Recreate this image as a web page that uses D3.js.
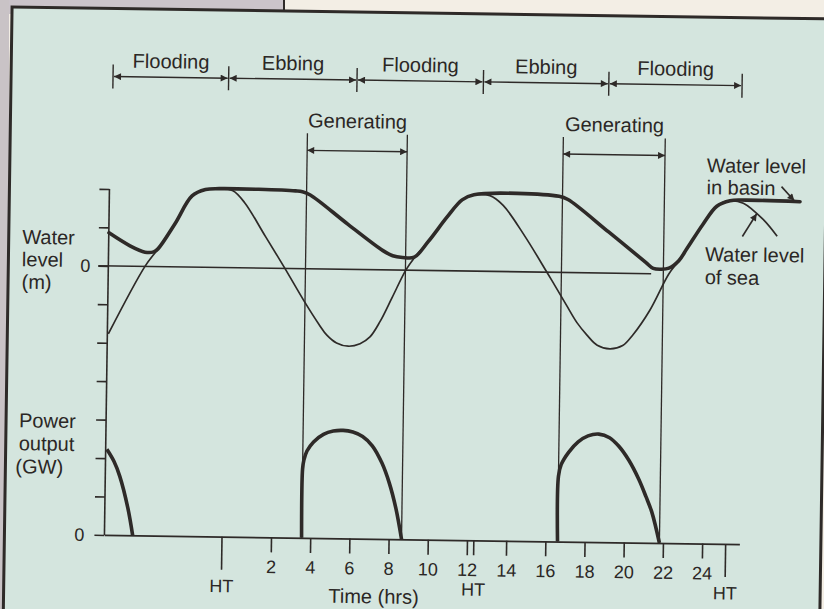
<html>
<head>
  <title>Tidal power station</title>
  <script src="https://d3js.org/d3.v7.min.js"></script>
  <style>
    body { margin: 0; background: #f3eee5; }
    svg text { font-family: 'Liberation Sans', Arial, Helvetica, sans-serif; fill: #2b2725; }
  </style>
</head>
<body>
  <div id="chart"></div>

  <script type="text/javascript">

    // values: time in hours, water level in m, power in GW
    var seaTime  = [-6.45, -4.63, -3.98, -3.13, -2.28, -1.6, -0.9, -0.2, 0.4, 1.5, 2.51, 3.5, 4.3, 4.7, 5.2, 5.8, 6.4, 6.9, 7.4, 8.0,
                    8.68, 9.1, 9.8, 10.75, 11.5, 12.1, 12.92, 13.6, 14.7, 15.88, 16.9, 17.45, 17.97, 18.5, 19.15, 19.8, 20.31, 21.16,
                    22.1, 22.6, 23.0, 23.8, 24.5, 25.17, 25.85, 26.86, 27.6];
    var seaLevel = [-1.77, 0.0, 0.46, 1.12, 1.85, 2.02, 2.05, 2.0, 1.7, 0.82, 0.0, -0.83, -1.45, -1.72, -1.92, -2.0, -1.93, -1.75, -1.35, -0.72,
                    0.0, 0.32, 0.75, 1.4, 1.85, 1.98, 1.97, 1.72, 0.95, 0.0, -0.85, -1.3, -1.62, -1.88, -1.97, -1.88, -1.6, -0.95,
                    0.0, 0.35, 0.66, 1.3, 1.78, 1.93, 1.87, 1.46, 1.02];

    var basinTime  = [-6.49, -5.41, -4.64, -4.2, -3.98, -3.13, -2.28, -1.6, -0.9, 3.0, 3.35, 3.75, 5.7, 7.5, 8.0, 8.5, 9.1,
                      9.8, 10.75, 11.5, 12.1, 16.45, 16.9, 19.0, 20.9, 21.3, 21.7, 22.1, 22.6, 23.0, 23.8, 24.5, 25.17, 26.0, 28.74];
    var basinLevel = [0.86, 0.53, 0.37, 0.38, 0.46, 1.12, 1.85, 2.02, 2.05, 2.02, 2.0, 1.92, 1.17, 0.5, 0.37, 0.33, 0.34,
                      0.75, 1.4, 1.85, 1.99, 1.98, 1.9, 1.07, 0.3, 0.14, 0.12, 0.15, 0.35, 0.66, 1.3, 1.78, 1.93, 1.95, 1.93];

    var power1Time = [-6.44, -6.07, -5.76, -5.33, -5.06];
    var power1     = [2.23, 1.92, 1.53, 0.72, 0.0];
    var power2Time = [3.56, 3.56, 3.62, 3.77, 4.1, 4.6, 5.1, 5.6, 6.1, 6.6, 7.1, 7.6, 8.0, 8.35, 8.66];
    var power2     = [0.0, 1.79, 2.02, 2.26, 2.5, 2.7, 2.79, 2.81, 2.77, 2.66, 2.42, 1.98, 1.45, 0.8, 0.0];
    var power3Time = [16.62, 16.62, 16.75, 17.13, 17.6, 18.1, 18.65, 19.2, 19.68, 20.2, 20.72, 21.1, 21.41, 21.82];
    var power3     = [0.0, 1.7, 2.0, 2.33, 2.6, 2.76, 2.81, 2.72, 2.5, 2.14, 1.65, 1.2, 0.8, 0.0];

    var phaseBounds = [-6.4, -0.5, 6.05, 12.5, 18.9, 25.7];
    var phaseNames  = ['Flooding', 'Ebbing', 'Flooding', 'Ebbing', 'Flooding'];
    var genStart = [3.56, 16.62];
    var genEnd   = [8.66, 21.82];

    var timeTicks   = [2, 4, 6, 8, 10, 12, 14, 16, 18, 20, 22, 24];
    var htTimes     = [-0.5, 12.35, 25.2];
    var levelTicks  = [-3, -2, -1, 0, 1, 2];
    var powerTicks  = [0, 1, 2, 3];

    var width = 824, height = 609;
    var ink = '#2e2a28';
    var axisY = 539.5;

    // Scales
    var x = d3.scaleLinear().domain([-6.5, 25.9]).range([107, 742]);
    var yLevel = d3.scaleLinear().domain([-3, 2]).range([385.7, 193.5]);
    var yPower = d3.scaleLinear().domain([0, 3]).range([axisY, 424.2]);

    var svg = d3.select('#chart')
                .append('svg')
                  .attr('width', width)
                  .attr('height', height);

    var defs = svg.append('defs');
    defs.append('marker')
          .attr('id', 'head')
          .attr('viewBox', '0 0 10 10')
          .attr('refX', 10)
          .attr('refY', 5)
          .attr('markerUnits', 'userSpaceOnUse')
          .attr('markerWidth', 10)
          .attr('markerHeight', 7)
          .attr('orient', 'auto-start-reverse')
        .append('path')
          .attr('d', 'M0,0L10,5L0,10z')
          .attr('fill', ink);

    // page around the printed box
    svg.append('rect').attr('width', width).attr('height', height).attr('fill', '#f3eee5');
    svg.append('rect').attr('width', 284).attr('height', 14).attr('fill', '#cbc4ca');
    svg.append('rect').attr('width', 9).attr('height', height).attr('fill', '#c9c3c6');
    svg.append('line')
         .attr('x1', 284).attr('x2', 284).attr('y1', 0).attr('y2', 12)
         .attr('stroke', ink).attr('stroke-width', 2);

    // the scan is slightly tilted
    var g = svg.append('g').attr('transform', 'rotate(0.83, 420, 360)');

    g.append('rect')
       .attr('x', 7).attr('y', 13)
       .attr('width', 816.5).attr('height', 700)
       .attr('fill', '#d4e5de')
       .attr('stroke', ink)
       .attr('stroke-width', 3);

    // left axis, one continuous line
    g.append('line')
       .attr('x1', x(-6.5)).attr('x2', x(-6.5))
       .attr('y1', yLevel(2)).attr('y2', axisY)
       .attr('stroke', ink).attr('stroke-width', 1.6);

    var levelAxis = d3.axisLeft(yLevel)
                      .tickValues(levelTicks)
                      .tickSize(10)
                      .tickPadding(8)
                      .tickFormat(function(d) { return d === 0 ? '0' : ''; });
    var powerAxis = d3.axisLeft(yPower)
                      .tickValues(powerTicks)
                      .tickSize(10)
                      .tickPadding(10)
                      .tickFormat(function(d) { return d === 0 ? '0' : ''; });

    [levelAxis, powerAxis].forEach(function(ax) {
      var ga = g.append('g')
                  .attr('transform', 'translate(' + x(-6.5) + ',0)')
                  .call(ax);
      ga.select('.domain').remove();
      ga.selectAll('line').attr('stroke', ink).attr('stroke-width', 1.6);
      ga.selectAll('text').style('font-size', '18px');
    });

    // zero line of water level
    g.append('line')
       .attr('x1', x(-6.5) - 10).attr('x2', x(21.2))
       .attr('y1', yLevel(0)).attr('y2', yLevel(0))
       .attr('stroke', ink).attr('stroke-width', 1.6);

    // time axis
    var xAxis = d3.axisBottom(x)
                  .tickValues(timeTicks)
                  .tickSize(15)
                  .tickSizeOuter(0)
                  .tickPadding(8);
    var gx = g.append('g')
                .attr('transform', 'translate(0,' + axisY + ')')
                .call(xAxis);
    gx.select('.domain').attr('stroke', ink).attr('stroke-width', 1.8);
    gx.selectAll('line').attr('stroke', ink).attr('stroke-width', 1.6);
    gx.selectAll('text').style('font-size', '18px');

    g.selectAll('.ht-tick')
       .data(htTimes)
       .enter()
       .append('line')
         .attr('class', 'ht-tick')
         .attr('x1', function(d) { return x(d); })
         .attr('x2', function(d) { return x(d); })
         .attr('y1', axisY)
         .attr('y2', function(d, i) { return i === 1 ? axisY + 15 : axisY + 33; })
         .attr('stroke', ink).attr('stroke-width', 1.6);

    g.selectAll('.ht-label')
       .data(htTimes)
       .enter()
       .append('text')
         .attr('class', 'ht-label')
         .attr('x', function(d) { return x(d); })
         .attr('y', 595)
         .attr('text-anchor', 'middle')
         .style('font-size', '18px')
         .text('HT');

    g.append('text')
       .attr('x', x(4.97))
       .attr('y', 604)
       .style('font-size', '20px')
       .text('Time (hrs)');

    // axis titles
    var levelTitle = ['Water', 'level', '(m)'];
    levelTitle.forEach(function(s, i) {
      g.append('text').attr('x', 20.5).attr('y', 249.5 + i * 22.5).style('font-size', '20px').text(s);
    });
    var powerTitle = ['Power', 'output', '(GW)'];
    powerTitle.forEach(function(s, i) {
      g.append('text').attr('x', i === 2 ? 17 : 20).attr('y', 433 + i * 23).style('font-size', '20px').text(s);
    });

    // generating periods
    genStart.forEach(function(s, i) {
      [s, genEnd[i]].forEach(function(t) {
        g.append('line')
           .attr('x1', x(t)).attr('x2', x(t))
           .attr('y1', 135).attr('y2', axisY)
           .attr('stroke', ink).attr('stroke-width', 1.3);
      });
      g.append('line')
         .attr('x1', x(s)).attr('x2', x(genEnd[i]))
         .attr('y1', 152).attr('y2', 152)
         .attr('stroke', ink).attr('stroke-width', 1.4)
         .attr('marker-start', 'url(#head)')
         .attr('marker-end', 'url(#head)');
      g.append('text')
         .attr('x', x((s + genEnd[i]) / 2))
         .attr('y', 129)
         .attr('text-anchor', 'middle')
         .style('font-size', '20px')
         .text('Generating');
    });

    // tide phases along the top
    g.selectAll('.phase-bar')
       .data(phaseBounds)
       .enter()
       .append('line')
         .attr('class', 'phase-bar')
         .attr('x1', function(d) { return x(d); })
         .attr('x2', function(d) { return x(d); })
         .attr('y1', 69).attr('y2', 93)
         .attr('stroke', ink).attr('stroke-width', 1.4);

    phaseNames.forEach(function(name, i) {
      g.append('line')
         .attr('x1', x(phaseBounds[i]) + 1).attr('x2', x(phaseBounds[i + 1]) - 1)
         .attr('y1', 81).attr('y2', 81)
         .attr('stroke', ink).attr('stroke-width', 1.4)
         .attr('marker-start', 'url(#head)')
         .attr('marker-end', 'url(#head)');
      g.append('text')
         .attr('x', x((phaseBounds[i] + phaseBounds[i + 1]) / 2))
         .attr('y', 72)
         .attr('text-anchor', 'middle')
         .style('font-size', '20px')
         .text(name);
    });

    // Setting up the line functions
    var levelLine = d3.line()
                      .x(function(d) { return x(d[0]); })
                      .y(function(d) { return yLevel(d[1]); })
                      .curve(d3.curveCatmullRom.alpha(0.5));
    var powerLine = d3.line()
                      .x(function(d) { return x(d[0]); })
                      .y(function(d) { return yPower(d[1]); })
                      .curve(d3.curveCatmullRom.alpha(0.5));

    g.append('path')
       .attr('d', levelLine(d3.zip(seaTime, seaLevel)))
       .attr('fill', 'none')
       .attr('stroke', ink)
       .attr('stroke-width', 1.7);

    g.append('path')
       .attr('d', levelLine(d3.zip(basinTime, basinLevel)))
       .attr('fill', 'none')
       .attr('stroke', ink)
       .attr('stroke-width', 3.6)
       .attr('stroke-linecap', 'round')
       .attr('stroke-linejoin', 'round');

    [[power1Time, power1], [power2Time, power2], [power3Time, power3]].forEach(function(p) {
      g.append('path')
         .attr('d', powerLine(d3.zip(p[0], p[1])))
         .attr('fill', 'none')
         .attr('stroke', ink)
         .attr('stroke-width', 3.6)
         .attr('stroke-linejoin', 'round');
    });

    // labels on the right
    var basinTip = [x(28.45), yLevel(1.95)];
    var seaTip = [x(26.54), yLevel(1.6)];

    g.append('text').attr('x', 704).attr('y', 168).style('font-size', '20px').text('Water level');
    g.append('text').attr('x', 704).attr('y', 190).style('font-size', '20px').text('in basin');
    g.append('line')
       .attr('x1', basinTip[0] - 13).attr('y1', basinTip[1] - 14)
       .attr('x2', basinTip[0]).attr('y2', basinTip[1])
       .attr('stroke', ink).attr('stroke-width', 1.6)
       .attr('marker-end', 'url(#head)');

    g.append('text').attr('x', 703.5).attr('y', 257).style('font-size', '20px').text('Water level');
    g.append('text').attr('x', 703.5).attr('y', 280).style('font-size', '20px').text('of sea');
    g.append('line')
       .attr('x1', seaTip[0] - 14).attr('y1', seaTip[1] + 23)
       .attr('x2', seaTip[0]).attr('y2', seaTip[1])
       .attr('stroke', ink).attr('stroke-width', 1.6)
       .attr('marker-end', 'url(#head)');

  </script>
</body>
</html>
